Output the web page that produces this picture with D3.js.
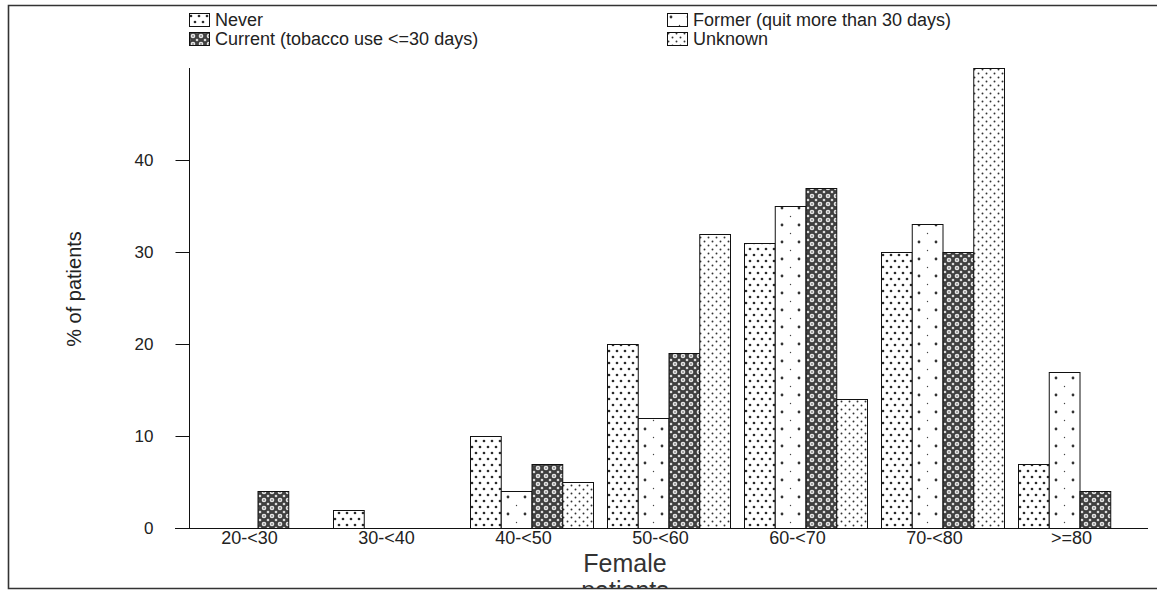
<!DOCTYPE html>
<html>
<head>
<meta charset="utf-8">
<script src="https://cdn.jsdelivr.net/npm/d3@7"></script>
<style>
  html, body { margin: 0; padding: 0; background: #fff; }
  svg { display: block; font-family: "Liberation Sans", Arial, sans-serif; }
</style>
</head>
<body>
<svg id="chart" width="1157" height="590"></svg>
<script>
// Age groups along the x axis
const ageGroups = ["20-<30", "30-<40", "40-<50", "50-<60", "60-<70", "70-<80", ">=80"];

// Tobacco-use status series (legend order)
const statusNames = ["Never", "Former (quit more than 30 days)", "Current (tobacco use <=30 days)", "Unknown"];

// % of female patients per age group, one array per status
const neverPct   = [0, 2, 10, 20, 31, 30, 7];
const formerPct  = [0, 0, 4, 12, 35, 33, 17];
const currentPct = [4, 0, 7, 19, 37, 30, 4];
const unknownPct = [0, 0, 5, 32, 14, 50, 0];

const yTicks = [0, 10, 20, 30, 40];

const seriesValues = [neverPct, formerPct, currentPct, unknownPct];
const patternIds = ["pat-never", "pat-former", "pat-current", "pat-unknown"];

const svg = d3.select("#chart");
const defs = svg.append("defs");

// Fill patterns for the four statuses
function dotPattern(id, w, h, dots) {
  const p = defs.append("pattern").attr("id", id)
    .attr("patternUnits", "userSpaceOnUse").attr("width", w).attr("height", h);
  p.append("rect").attr("width", w).attr("height", h).attr("fill", "#fff");
  dots.forEach(d => p.append("circle").attr("cx", d[0]).attr("cy", d[1]).attr("r", d[2]).attr("fill", d[3] || "#333"));
}
dotPattern("pat-never", 8, 12, [[2, 3, 1.35, "#2a2a2a"], [6, 9, 1.35, "#2a2a2a"]]);
dotPattern("pat-former", 17, 17, [[4, 4, 1.4], [12.5, 12.5, 0.7, "#444"]]);
dotPattern("pat-unknown", 8, 8, [[1.5, 1.5, 0.95], [5.5, 5.5, 0.95]]);
(function () {
  const p = defs.append("pattern").attr("id", "pat-current")
    .attr("patternUnits", "userSpaceOnUse").attr("width", 8).attr("height", 8);
  p.append("rect").attr("width", 8).attr("height", 8).attr("fill", "#404040");
  p.append("circle").attr("cx", 4).attr("cy", 4).attr("r", 2.3).attr("fill", "#e6e6e6");
  [[0, 0], [8, 0], [0, 8], [8, 8]].forEach(c =>
    p.append("circle").attr("cx", c[0]).attr("cy", c[1]).attr("r", 1.3).attr("fill", "#dcdcdc"));
  p.append("circle").attr("cx", 4).attr("cy", 4).attr("r", 0.8).attr("fill", "#555");
})();

// Outer frame
svg.append("path").attr("d", "M1170,5.5 H8.5 V588.5 H1170")
  .attr("fill", "none").attr("stroke", "#333").attr("stroke-width", 1.6);

// Scales
const x0 = d3.scaleBand().domain(ageGroups).range([189, 1148])
  .paddingInner(14 / 137).paddingOuter(7 / 137);
const x1 = d3.scaleBand().domain(d3.range(statusNames.length)).range([0, x0.bandwidth()]);
const y = d3.scaleLinear().domain([0, 50]).range([528, 68]);

// Bars
const groups = svg.append("g").selectAll("g").data(ageGroups).join("g")
  .attr("transform", d => `translate(${x0(d)},0)`);
groups.selectAll("rect")
  .data((g, gi) => seriesValues.map((vals, si) => ({ si, v: vals[gi] })).filter(d => d.v > 0))
  .join("rect")
  .attr("x", d => x1(d.si) + 0.5)
  .attr("y", d => Math.round(y(d.v)) + 0.5)
  .attr("width", x1.bandwidth())
  .attr("height", d => 528 - Math.round(y(d.v)))
  .attr("fill", d => `url(#${patternIds[d.si]})`)
  .attr("stroke", "#111").attr("stroke-width", 1);

// Y axis
const yAxis = d3.axisLeft(y).tickValues(yTicks).tickSize(14).tickPadding(22).tickSizeOuter(0);
const gy = svg.append("g").attr("transform", "translate(189.5,0)").call(yAxis);
gy.select(".domain").attr("d", `M0,${y(0)}V${y(50)}`).attr("stroke", "#111");
gy.selectAll(".tick line").attr("stroke", "#111");
gy.selectAll(".tick text").attr("font-size", 17).attr("fill", "#222")
  .attr("font-family", "Liberation Sans, Arial, sans-serif");

// X axis baseline and category labels
svg.append("line").attr("x1", 175).attr("x2", 1148).attr("y1", 528.5).attr("y2", 528.5)
  .attr("stroke", "#111");
const xAxis = d3.axisBottom(x0).tickSize(0).tickPadding(2);
const gx = svg.append("g").attr("transform", "translate(-8,529)").call(xAxis);
gx.select(".domain").remove();
gx.selectAll(".tick text").attr("font-size", 18).attr("fill", "#222")
  .attr("font-family", "Liberation Sans, Arial, sans-serif");

// Axis titles
svg.append("text").attr("transform", "translate(81,289) rotate(-90)")
  .attr("text-anchor", "middle").attr("font-size", 20).attr("fill", "#222")
  .text("% of patients");
svg.append("clipPath").attr("id", "frame-clip").append("rect")
  .attr("x", 0).attr("y", 0).attr("width", 1157).attr("height", 588);
const xt = svg.append("text").attr("clip-path", "url(#frame-clip)")
  .attr("text-anchor", "middle").attr("font-size", 25).attr("fill", "#333");
xt.append("tspan").attr("x", 625).attr("y", 572).text("Female");
xt.append("tspan").attr("x", 625).attr("y", 599).text("patients");

// Legend
const legendPos = [[189, 13], [667, 13], [189, 32], [667, 32]];
const legendOrder = [0, 1, 2, 3];
const lg = svg.append("g").selectAll("g").data(legendOrder).join("g")
  .attr("transform", (d, i) => `translate(${legendPos[i][0]},${legendPos[i][1]})`);
lg.append("rect").attr("x", 0.5).attr("y", 0.5).attr("width", 20).attr("height", 13)
  .attr("fill", d => `url(#${patternIds[d]})`).attr("stroke", "#111");
lg.append("text").attr("x", 26).attr("y", 13).attr("font-size", 18).attr("fill", "#222")
  .text(d => statusNames[d]);
</script>
</body>
</html>
